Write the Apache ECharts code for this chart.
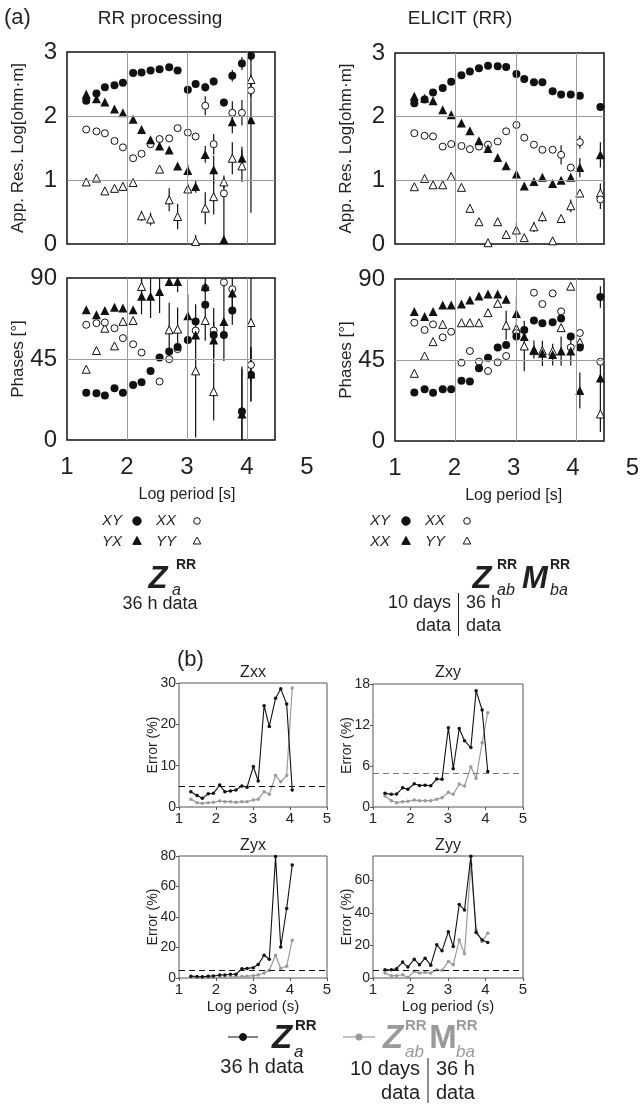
<!DOCTYPE html>
<html><head><meta charset="utf-8">
<script src="https://cdn.jsdelivr.net/npm/echarts/dist/echarts.min.js"></script>
<style>html,body{margin:0;padding:0;background:#fff}#c{width:642px;height:1104px}</style>
</head><body><div id="c"></div>
<script>
// ---------- DATA ----------
const periods = [1.32, 1.49, 1.63, 1.79, 1.93, 2.10, 2.24, 2.39, 2.54, 2.70, 2.84, 3.01, 3.14, 3.30, 3.44, 3.61, 3.75, 3.91, 4.06];
const elPeriods = [1.32, 1.49, 1.63, 1.79, 1.93, 2.10, 2.24, 2.39, 2.54, 2.70, 2.84, 3.01, 3.14, 3.30, 3.44, 3.61, 3.75, 3.91, 4.06, 4.40];
const xTickLabels = ['1','2','3','4','5'];

// (a) RR processing, apparent resistivity (log ohm.m)
const rrResXY = [2.24, 2.35, 2.45, 2.48, 2.52, 2.67, 2.68, 2.71, 2.73, 2.76, 2.71, 2.41, 2.50, 2.45, 2.54, 2.21, 2.63, 2.82, 2.94];
const rrResYX = [2.34, 2.27, 2.22, 2.11, 2.05, 1.95, 1.79, 1.63, 1.53, 1.47, 1.22, 1.15, 0.90, 1.40, 1.16, 0.07, 1.91, 1.34, 1.94];
const rrResXX = [1.79, 1.76, 1.73, 1.61, 1.51, 1.34, 1.41, 1.56, 1.64, 1.65, 1.81, 1.74, 1.68, 2.16, 1.56, 0.79, 2.05, 2.05, 2.40];
const rrResYY = [0.97, 1.03, 0.83, 0.87, 0.90, 0.96, 0.44, 0.39, 1.17, 0.69, 0.43, 0.86, 0.04, 0.56, 0.74, 0.97, 1.34, 1.22, 2.57];
const rrResXYErr = [null,null,null,null,null,null,null,null,null,null,null,null,null,0.07,0.06,0.06,0.09,0.10,0.08];
const rrResYXErr = [null,null,null,null,null,null,null,null,null,null,null,0.09,0.10,0.13,0.22,0.95,0.18,0.18,1.45];
const rrResXXErr = [null,null,null,null,null,null,null,null,null,null,null,null,null,0.15,0.16,null,0.18,0.20,0.10];
const rrResYYErr = [null,null,null,null,null,null,0.08,0.10,null,0.18,0.20,0.08,0.10,0.25,0.28,0.10,0.25,0.25,0.08];

// (a) RR processing, phases (deg)
const rrPhXY = [26.3, 26.0, 24.7, 28.8, 26.3, 30.6, 32.1, 38.4, 45.8, 49.2, 51.6, 55.6, 65.9, 75.1, 58.4, 58.4, 72.0, 15.8, 36.2];
const rrPhYX = [72.3, 69.6, 72.0, 73.8, 73.3, 72.3, 79.8, 79.8, 82.5, 88.1, 88.1, 69.0, 58.4, 85.3, 55.6, 65.9, 81.6, 14.5, 36.7];
const rrPhXX = [64.0, 64.9, 65.3, 62.1, 56.6, 53.2, 48.6, null, 32.5, 44.9, 50.5, null, 60.8, 84.4, 60.8, 87.6, 83.8, null, 41.7];
const rrPhYY = [39.3, 49.7, 62.1, 52.3, 65.9, 66.4, 85.3, null, null, 61.2, 61.6, null, 38.4, 66.4, 26.9, null, null, null, 65.3];
const rrPhXYErr = [null,null,null,null,null,null,null,null,null,null,null,null,null,20,15,null,8,25,15];
const rrPhYXErr = [null,null,null,null,null,null,10,12,12,null,6,12,null,null,10,22,12,25,15];
const rrPhXXErr = [null,null,null,null,null,null,null,null,null,null,null,null,null,null,null,null,null,null,null];
const rrPhYYErr = [null,null,null,null,null,null,6,null,null,15,12,null,37,null,16,null,null,null,33];

// (a) ELICIT (RR), apparent resistivity
const elResXY = [2.21, 2.27, 2.38, 2.45, 2.55, 2.65, 2.71, 2.76, 2.80, 2.79, 2.78, 2.67, 2.59, 2.54, 2.54, 2.40, 2.35, 2.35, 2.33, 2.15];
const elResYX = [2.32, 2.29, 2.25, 2.11, 2.03, 1.90, 1.78, 1.62, 1.50, 1.36, 1.23, 1.10, 0.91, 0.98, 1.05, 0.95, 1.00, 1.05, 1.20, 1.40];
const elResXX = [1.74, 1.70, 1.69, 1.53, 1.57, 1.54, 1.49, 1.53, 1.56, 1.61, 1.77, 1.87, 1.67, 1.56, 1.48, 1.48, 1.40, 1.20, 1.60, 0.70];
const elResYY = [0.90, 1.03, 0.93, 0.93, 1.06, 0.89, 0.56, 0.35, 0.02, 0.35, 0.15, 0.22, 0.10, 0.27, 0.43, 0.05, 0.40, 0.60, 0.80, 0.80];
const elResXYErr = [null,null,null,null,null,null,null,null,null,null,null,null,null,null,null,null,0.04,0.04,0.05,0.06];
const elResYXErr = [null,null,null,null,null,null,null,null,null,null,null,null,null,null,null,null,null,null,0.15,0.20];
const elResXXErr = [null,null,null,null,null,null,null,null,null,null,null,null,null,null,null,null,0.15,null,0.10,0.15];
const elResYYErr = [null,null,null,null,null,null,null,null,null,null,null,0.12,null,0.08,0.08,null,null,0.10,null,0.15];

// (a) ELICIT (RR), phases
const elPhXY = [27.0, 28.7, 26.8, 28.7, 28.7, 33.5, 33.0, 40.4, 46.3, 52.0, 53.3, 58.0, 61.7, 66.9, 65.4, 66.0, 68.0, 58.0, 52.0, 80.0];
const elPhYX = [71.9, 69.1, 71.9, 75.6, 75.6, 76.1, 78.3, 80.6, 81.7, 81.7, 78.7, 70.9, 58.0, 50.9, 48.7, 48.0, 50.0, 50.0, 28.0, 35.0];
const elPhXX = [65.7, 61.7, 64.8, 57.6, 60.7, 43.5, 50.0, 44.1, 38.9, 43.7, 47.2, 60.0, null, 82.4, 76.1, 82.0, 72.0, 52.0, 60.0, 44.0];
const elPhYY = [37.6, 47.2, 55.2, 64.8, null, 65.7, 65.7, 65.7, 71.3, 76.5, 64.3, 62.6, 52.8, 50.2, 50.2, 50.0, 63.0, 86.0, 55.0, 15.0];
const elPhXYErr = [null,null,null,null,null,null,null,null,null,null,null,null,null,null,null,null,null,null,null,6];
const elPhYXErr = [null,null,null,null,null,null,null,null,null,null,null,9,null,5,7,6,8,8,10,10];
const elPhXXErr = [null,null,null,null,null,null,null,null,null,null,null,null,null,null,null,null,null,null,null,null];
const elPhYYErr = [null,null,null,null,null,null,null,null,null,null,8,null,14,null,null,null,null,null,null,10];

// (b) errors (%) : A = Z_a^RR 36 h (black), B = Z_ab^RR M_ba^RR (gray)
const zxxA = [3.7, 2.8, 2.1, 3.2, 3.3, 5.3, 3.7, 3.9, 4.1, 5.1, 4.8, 9.8, 6.3, 24.5, 19.5, 26.3, 28.6, 24.9, 4.1];
const zxxB = [1.9, 1.05, 0.9, 1.05, 1.13, 1.45, 1.3, 1.3, 1.13, 1.3, 1.3, 1.7, 1.86, 3.7, 3.07, 7.6, 6.1, 7.6, 28.8];
const zxyA = [2.0, 1.85, 1.9, 2.8, 2.6, 3.4, 3.15, 3.2, 3.1, 4.1, 4.05, 11.6, 5.6, 11.5, 9.7, 8.7, 17.0, 14.2, 5.2];
const zxyB = [1.6, 0.93, 0.63, 0.78, 0.83, 1.02, 0.93, 0.93, 0.93, 1.12, 1.37, 2.15, 1.85, 3.37, 3.07, 5.9, 4.2, 9.4, 13.8];
const zyxA = [1.2, 1.0, 0.8, 1.2, 1.3, 2.0, 2.0, 2.5, 2.5, 6.0, 6.3, 6.8, 8.8, 14.9, 12.3, 79.6, 20.4, 45.6, 74.1];
const zyxB = [0.5, 0.3, 0.2, 0.3, 0.4, 0.5, 0.5, 0.6, 0.8, 1.0, 1.2, 1.5, 2.0, 3.3, 5.1, 14.9, 6.2, 7.7, 24.8];
const zyyA = [5.1, 5.1, 5.7, 9.8, 6.7, 11.6, 8.1, 12.2, 7.9, 20.4, 16.7, 28.5, 19.3, 45.2, 41.8, 74.8, 27.9, 23.4, 21.8];
const zyyB = [3.0, 1.4, 1.4, 2.0, 0.3, 4.1, 3.0, 3.5, 3.0, 5.1, 4.7, 10.2, 8.1, 23.4, 14.9, 70.0, 29.5, 22.4, 27.5];
const errThreshold = 5;

// ---------- CHART ----------
const FONT = '"Liberation Sans", Arial, sans-serif';
const TXT = '#231f20';
const GRAY = '#9a9a9a';
const chart = echarts.init(document.getElementById('c'));

const grids = [
  {left:67, top:52, width:208, height:192, show:true, borderColor:'#111', borderWidth:1.5},
  {left:67, top:278, width:208, height:162, show:true, borderColor:'#111', borderWidth:1.5},
  {left:395, top:53, width:209, height:191, show:true, borderColor:'#111', borderWidth:1.5},
  {left:395, top:279, width:209, height:162, show:true, borderColor:'#111', borderWidth:1.5},
  {left:67, top:440, width:240, height:1},
  {left:395, top:441, width:241, height:1},
  {left:179, top:683, width:148, height:124, show:true, borderColor:'#555', borderWidth:1},
  {left:373, top:684, width:150, height:123, show:true, borderColor:'#555', borderWidth:1},
  {left:179, top:856, width:148, height:122, show:true, borderColor:'#555', borderWidth:1},
  {left:373, top:856, width:150, height:122, show:true, borderColor:'#555', borderWidth:1}
];

function aX(g){ return {gridIndex:g, type:'value', min:1, max:4.46, interval:1, axisLine:{show:false}, axisTick:{show:false}, axisLabel:{show:false}, splitLine:{show:false}}; }
function aY(g, max, interval, name){
  return {gridIndex:g, type:'value', min:0, max:max, interval:interval, axisLine:{show:false}, axisTick:{show:false}, splitLine:{show:false},
    axisLabel:{fontSize:24, fontFamily:FONT, color:TXT, margin:10},
    name:name, nameLocation:'middle', nameGap:40, nameTextStyle:{fontSize:17, fontFamily:FONT, color:TXT}};
}
function labX(g){ return {gridIndex:g, type:'value', min:1, max:5, interval:1, axisLine:{show:false}, axisTick:{show:false}, splitLine:{show:false},
  axisLabel:{fontSize:24, fontFamily:FONT, color:TXT, margin:14, formatter:(v)=>xTickLabels[Math.round(v)-1]},
  name:'Log period [s]', nameLocation:'middle', nameGap:46, nameTextStyle:{fontSize:16, fontFamily:FONT, color:TXT}}; }
function bX(g, withName){ const o = {gridIndex:g, type:'value', min:1, max:5, interval:1,
  axisLine:{show:false}, axisTick:{show:true, length:3, lineStyle:{color:'#555'}}, splitLine:{show:false},
  axisLabel:{fontSize:15, fontFamily:FONT, color:TXT, margin:4, formatter:(v)=>xTickLabels[Math.round(v)-1]}};
  if (withName){ o.name='Log period (s)'; o.nameLocation='middle'; o.nameGap=21; o.nameTextStyle={fontSize:15, fontFamily:FONT, color:TXT}; }
  return o; }
function bY(g, max, interval, hideMax){ return {gridIndex:g, type:'value', min:0, max:max, interval:interval,
  axisLine:{show:false}, axisTick:{show:true, length:3, lineStyle:{color:'#555'}}, splitLine:{show:false},
  axisLabel:{fontSize:14, fontFamily:FONT, color:TXT, margin:3, showMaxLabel: !hideMax},
  name:'Error (%)', nameLocation:'middle', nameGap:19, nameMoveOverlap:false, nameTextStyle:{fontSize:14, fontFamily:FONT, color:TXT}}; }

const xAxes = [aX(0), aX(1), aX(2), aX(3), labX(4), labX(5), bX(6,false), bX(7,false), bX(8,true), bX(9,true)];
const yAxes = [aY(0,3,1,'App. Res. Log[ohm·m]'), aY(1,90,45,'Phases [°]'), aY(2,3,1,'App. Res. Log[ohm·m]'), aY(3,90,45,'Phases [°]'),
  {gridIndex:4, show:false, min:0, max:1}, {gridIndex:5, show:false, min:0, max:1},
  bY(6,30,10,false), bY(7,18,6,false), bY(8,80,20,false), bY(9,75,20,true)];

const series = [];
function gridLines(ax, hLines){
  const d = [{xAxis:2},{xAxis:3},{xAxis:4}].concat(hLines.map(v=>({yAxis:v})));
  series.push({type:'line', xAxisIndex:ax, yAxisIndex:ax, data:[[1,-10]], showSymbol:false, lineStyle:{opacity:0}, z:1, silent:true,
    markLine:{silent:true, symbol:'none', label:{show:false}, lineStyle:{color:'#9c9c9c', type:'solid', width:1}, data:d, animation:false}});
}
function errBars(ax, xs, vals, errs, ymin, ymax){
  const d = [];
  vals.forEach((v,i)=>{ if (v!=null && errs[i]!=null){ d.push([xs[i], Math.max(ymin, v-errs[i]), Math.min(ymax, v+errs[i])]); } });
  series.push({type:'custom', xAxisIndex:ax, yAxisIndex:ax, z:2, silent:true, clip:true, data:d,
    renderItem:(params, api)=>{ const p1 = api.coord([api.value(0), api.value(1)]); const p2 = api.coord([api.value(0), api.value(2)]);
      return {type:'line', shape:{x1:p1[0], y1:p1[1], x2:p2[0], y2:p2[1]}, style:{stroke:'#111', lineWidth:1.2}}; }});
}
function pts(vals, xs){ xs = xs || periods; return vals.map((v,i)=>[xs[i], v]).filter(p=>p[1]!=null); }
const STY = {
  XY:{symbol:'circle', symbolSize:8, itemStyle:{color:'#111', opacity:1}},
  YX:{symbol:'triangle', symbolSize:9, itemStyle:{color:'#111', opacity:1}},
  XX:{symbol:'circle', symbolSize:7, itemStyle:{color:'#fff', borderColor:'#111', borderWidth:1, opacity:1}},
  YY:{symbol:'triangle', symbolSize:8, itemStyle:{color:'#fff', borderColor:'#111', borderWidth:1, opacity:1}}
};
function panelA(ax, xs, sets, ymax, hLines){
  gridLines(ax, hLines);
  Object.keys(sets).forEach(k=>{ errBars(ax, xs, sets[k][0], sets[k][1], 0, ymax); });
  ['YY','XX','YX','XY'].forEach(k=>{
    series.push(Object.assign({type:'scatter', xAxisIndex:ax, yAxisIndex:ax, z:3, silent:true, data:pts(sets[k][0], xs)}, STY[k]));
  });
}
panelA(0, periods, {XY:[rrResXY,rrResXYErr], YX:[rrResYX,rrResYXErr], XX:[rrResXX,rrResXXErr], YY:[rrResYY,rrResYYErr]}, 3, [1,2]);
panelA(1, periods, {XY:[rrPhXY,rrPhXYErr], YX:[rrPhYX,rrPhYXErr], XX:[rrPhXX,rrPhXXErr], YY:[rrPhYY,rrPhYYErr]}, 90, [45]);
panelA(2, elPeriods, {XY:[elResXY,elResXYErr], YX:[elResYX,elResYXErr], XX:[elResXX,elResXXErr], YY:[elResYY,elResYYErr]}, 3, [1,2]);
panelA(3, elPeriods, {XY:[elPhXY,elPhXYErr], YX:[elPhYX,elPhYXErr], XX:[elPhXX,elPhXXErr], YY:[elPhYY,elPhYYErr]}, 90, [45]);
series.push({type:'scatter', xAxisIndex:4, yAxisIndex:4, data:[]});
series.push({type:'scatter', xAxisIndex:5, yAxisIndex:5, data:[]});

function panelB(ax, a, b, dashColor){
  series.push({type:'line', xAxisIndex:ax, yAxisIndex:ax, data:pts(b), symbol:'circle', symbolSize:3.5, z:3, silent:true,
    itemStyle:{color:GRAY}, lineStyle:{color:GRAY, width:1.2}});
  series.push({type:'line', xAxisIndex:ax, yAxisIndex:ax, data:pts(a), symbol:'circle', symbolSize:3.5, z:4, silent:true,
    itemStyle:{color:'#111'}, lineStyle:{color:'#111', width:1.1},
    markLine:{silent:true, symbol:'none', label:{show:false}, animation:false,
      lineStyle:{color:dashColor, type:[6,4], width:1.1}, data:[{yAxis:errThreshold}]}});
}
panelB(6, zxxA, zxxB, '#111');
panelB(7, zxyA, zxyB, '#777');
panelB(8, zyxA, zyxB, '#111');
panelB(9, zyyA, zyyB, '#111');

// ---------- annotations ----------
function T(x, y, s, o){ o = o||{}; return {type:'text', x:x, y:y, silent:true, z:10, style:{text:s, fontSize:o.size||16, fontFamily:FONT,
  fontWeight:o.weight||'normal', fontStyle:o.italic?'italic':'normal', fill:o.color||TXT, align:o.align||'center', verticalAlign:'middle'}}; }
function C(x, y, r, filled){ return {type:'circle', silent:true, z:10, shape:{cx:x, cy:y, r:r}, style:{fill:filled?'#111':'#fff', stroke:'#111', lineWidth:1}}; }
function TR(x, y, s, filled){ return {type:'polygon', silent:true, z:10, shape:{points:[[x,y-s],[x-s*0.95,y+s*0.75],[x+s*0.95,y+s*0.75]]}, style:{fill:filled?'#111':'#fff', stroke:'#111', lineWidth:1}}; }
function L(x1,y1,x2,y2,c,w){ return {type:'line', silent:true, z:10, shape:{x1:x1,y1:y1,x2:x2,y2:y2}, style:{stroke:c, lineWidth:w||1}}; }

const g = [];
g.push(T(4, 18, '(a)', {size:22, align:'left'}));
g.push(T(160, 19, 'RR processing', {size:19}));
g.push(T(460, 19, 'ELICIT (RR)', {size:19}));
// legend (a) left
g.push(T(112, 521, 'XY', {size:15, italic:true}), C(137, 521, 4.2, true), T(166, 521, 'XX', {size:15, italic:true}), C(197, 521, 3.3, false));
g.push(T(112, 542, 'YX', {size:15, italic:true}), TR(137, 541, 4.5, true), T(166, 542, 'YY', {size:15, italic:true}), TR(197, 541, 4, false));
// legend (a) right
g.push(T(380, 521, 'XY', {size:15, italic:true}), C(406, 521, 4.2, true), T(435, 521, 'XX', {size:15, italic:true}), C(467, 521, 3.3, false));
g.push(T(380, 542, 'XX', {size:15, italic:true}), TR(406, 541, 4.5, true), T(435, 542, 'YY', {size:15, italic:true}), TR(467, 541, 4, false));
// Z labels (a)
g.push(T(158, 579, 'Z', {size:31, weight:'bold', italic:true}), T(176, 565, 'RR', {size:14, weight:'bold', align:'left'}), T(172, 591, 'a', {size:16, italic:true, align:'left'}));
g.push(T(160, 604, '36 h data', {size:18}));
g.push(T(482, 579, 'Z', {size:31, weight:'bold', italic:true}), T(497, 565, 'RR', {size:14, weight:'bold', align:'left'}), T(497, 591, 'ab', {size:16, italic:true, align:'left'}));
g.push(T(535, 579, 'M', {size:31, weight:'bold', italic:true}), T(550, 565, 'RR', {size:14, weight:'bold', align:'left'}), T(550, 591, 'ba', {size:16, italic:true, align:'left'}));
g.push(T(451, 603, '10 days', {size:18, align:'right'}), T(466, 603, '36 h', {size:18, align:'left'}));
g.push(T(451, 626, 'data', {size:18, align:'right'}), T(466, 626, 'data', {size:18, align:'left'}));
g.push(L(458.5, 593, 458.5, 636, TXT, 1));
// (b)
g.push(T(177, 660, '(b)', {size:22, align:'left'}));
g.push(T(253, 673, 'Zxx', {size:16}), T(448, 673, 'Zxy', {size:16}), T(253, 846, 'Zyx', {size:16}), T(448, 846, 'Zyy', {size:16}));
// legend (b)
g.push(L(228, 1037, 258, 1037, '#333', 1.2), C(243, 1037, 3.5, true));
g.push(T(282, 1039, 'Z', {size:33, weight:'bold', italic:true}), T(295, 1026, 'RR', {size:15, weight:'bold', align:'left'}), T(294, 1052, 'a', {size:17, italic:true, align:'left'}));
g.push(T(262, 1067, '36 h data', {size:20}));
g.push(L(343, 1037, 375, 1037, GRAY, 1.2), {type:'circle', silent:true, z:10, shape:{cx:359, cy:1037, r:3.5}, style:{fill:GRAY}});
g.push(T(393, 1039, 'Z', {size:33, weight:'bold', italic:true, color:GRAY}), T(405, 1026, 'RR', {size:15, weight:'bold', align:'left', color:GRAY}), T(405, 1052, 'ab', {size:17, italic:true, align:'left', color:GRAY}));
g.push(T(443, 1039, 'M', {size:33, weight:'bold', color:GRAY}), T(456, 1026, 'RR', {size:15, weight:'bold', align:'left', color:GRAY}), T(456, 1052, 'ba', {size:17, italic:true, align:'left', color:GRAY}));
g.push(T(420, 1069, '10 days', {size:20, align:'right'}), T(436, 1069, '36 h', {size:20, align:'left'}));
g.push(T(420, 1093, 'data', {size:20, align:'right'}), T(436, 1093, 'data', {size:20, align:'left'}));
g.push(L(428, 1058, 428, 1103, TXT, 1));

chart.setOption({animation:false, backgroundColor:'#fff', grid:grids, xAxis:xAxes, yAxis:yAxes, series:series, graphic:g});
</script></body></html>
